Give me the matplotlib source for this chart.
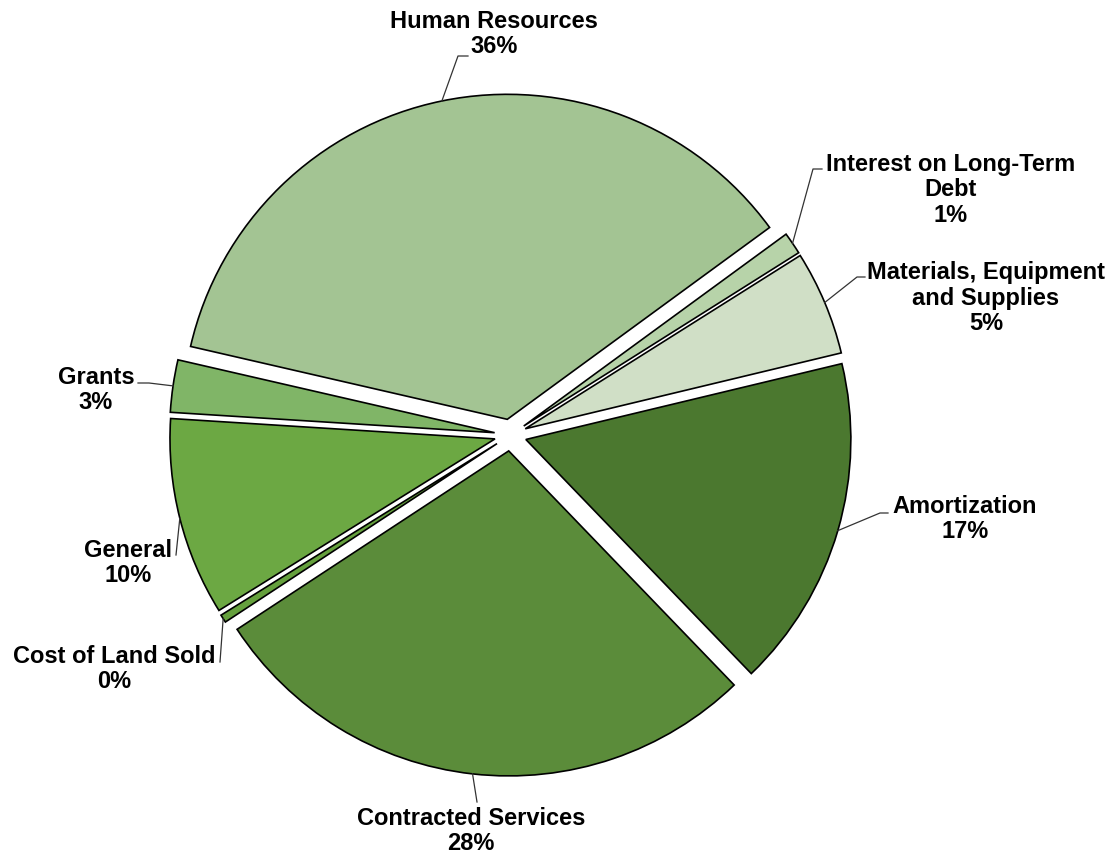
import numpy as np
import matplotlib
matplotlib.use("Agg")
import matplotlib.pyplot as plt

plt.rcParams['font.family'] = ['Liberation Sans', 'DejaVu Sans']

# expense categories, clockwise from the Amortization slice
categories = ['Amortization', 'Contracted Services', 'Cost of Land Sold', 'General',
              'Grants', 'Human Resources', 'Interest on Long-Term\nDebt',
              'Materials, Equipment\nand Supplies']
shares = [16.55, 27.95, 0.4, 9.85, 2.6, 36.35, 1.1, 5.2]
colors = ['#4B782F', '#5B8C3A', '#65A03D', '#6CA843',
          '#80B567', '#A3C493', '#B7D3A9', '#D0DFC6']

W, H = 1115, 855
CX, CY, R = 510.5, H - 435, 325
START = 13.5          # degrees, matplotlib convention
EXPLODE = 16          # pie() offsets wedges in data units

# label centre, elbow of leader, end of leader (pixel coords, y down)
label_layout = {
    'Amortization': ((965, 519), (880, 513), (888, 513)),
    'Contracted Services': ((471, 831), (477, 802), (477, 802)),
    'Cost of Land Sold': ((114, 669), (220, 662), (220, 662)),
    'General': ((128, 563), (176, 555), (176, 555)),
    'Grants': ((96, 390), (149, 383), (138, 383)),
    'Human Resources': ((494, 34), (458, 56), (468, 56)),
    'Interest on Long-Term\nDebt': ((951, 190), (813, 169), (822, 169)),
    'Materials, Equipment\nand Supplies': ((986, 298), (857, 277), (865, 277)),
}

fig = plt.figure(figsize=(W / 100, H / 100), dpi=100)
ax = fig.add_axes([0, 0, 1, 1])

wedges, _ = ax.pie(shares, colors=colors, startangle=START, counterclock=False,
                   center=(CX, CY), radius=R, explode=[EXPLODE] * len(shares),
                   wedgeprops=dict(edgecolor='black', linewidth=1.2),
                   frame=True)
ax.set_xlim(0, W)
ax.set_ylim(0, H)
ax.set_aspect('equal')
ax.axis('off')

for w, name, val in zip(wedges, categories, shares):
    mid = np.deg2rad((w.theta1 + w.theta2) / 2)
    cx, cy = w.center
    px, py = cx + R * np.cos(mid), cy + R * np.sin(mid)
    (tx, ty), (ex, ey), (sx, sy) = label_layout[name]
    ax.plot([px, ex, sx], [py, H - ey, H - sy], color='#333333', lw=0.9)
    ax.text(tx, H - ty, '%s\n%.0f%%' % (name, val), ha='center', va='center',
            fontsize=17, fontweight='bold', linespacing=1.15)

fig.savefig('out.png', dpi=100)
